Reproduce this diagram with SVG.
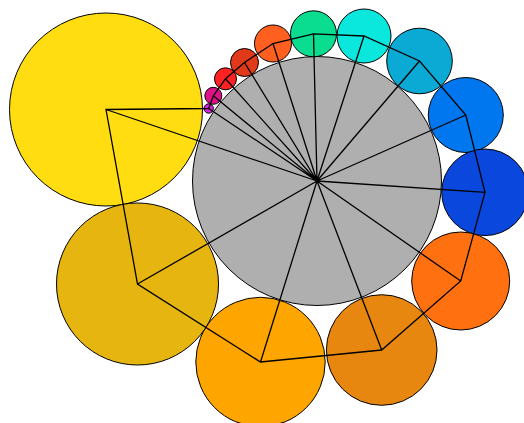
<svg xmlns="http://www.w3.org/2000/svg" width="524" height="423" viewBox="0 0 524 423">
<style>
circle{stroke:#000;stroke-width:1}
.c{fill:none;stroke:#000;stroke-width:1.3;stroke-linejoin:miter}
</style>
<rect width="524" height="423" fill="#fff"/>
<g id="center"><circle cx="317" cy="181" r="124.5" fill="#AFAFAF"/></g>
<g id="n1"><circle cx="106" cy="109.5" r="96.5" fill="#FFDD11"/></g>
<g id="n2"><circle cx="208.7" cy="108.5" r="4.7" fill="#DD22DD"/></g>
<g id="n3"><circle cx="213.3" cy="95.8" r="8.5" fill="#DD1188"/></g>
<g id="n4"><circle cx="225.5" cy="78.8" r="11" fill="#FF2222"/></g>
<g id="n5"><circle cx="244.5" cy="62.5" r="14" fill="#E03A1A"/></g>
<g id="n6"><circle cx="273" cy="43.5" r="18.5" fill="#FF6020"/></g>
<g id="n7"><circle cx="313.5" cy="33.8" r="23" fill="#0ADD90"/></g>
<g id="n8"><circle cx="364" cy="36" r="27" fill="#0AE8DD"/></g>
<g id="n9"><circle cx="419.5" cy="61" r="32.8" fill="#0AAAD5"/></g>
<g id="n10"><circle cx="465.8" cy="115" r="37.5" fill="#0077EE"/></g>
<g id="n11"><circle cx="485" cy="192.3" r="43.3" fill="#0A47DD"/></g>
<g id="n12"><circle cx="460.7" cy="281" r="49" fill="#FF7010"/></g>
<g id="n13"><circle cx="381.7" cy="350" r="55.3" fill="#E8870F"/></g>
<g id="n14"><circle cx="260.5" cy="362" r="64.7" fill="#FFA500"/></g>
<g id="n15"><circle cx="137.5" cy="284" r="81" fill="#E6B50F"/></g>
<g id="connectors">
<path class="c" d="M317 181L106 109.5M317 181L208.7 108.5M317 181L213.3 95.8M317 181L225.5 78.8M317 181L244.5 62.5M317 181L273 43.5M317 181L313.5 33.8M317 181L364 36M317 181L419.5 61M317 181L465.8 115M317 181L485 192.3M317 181L460.7 281M317 181L381.7 350M317 181L260.5 362M317 181L137.5 284"/>
<polygon class="c" points="106,109.5 208.7,108.5 213.3,95.8 225.5,78.8 244.5,62.5 273,43.5 313.5,33.8 364,36 419.5,61 465.8,115 485,192.3 460.7,281 381.7,350 260.5,362 137.5,284"/>
</g>
</svg>
